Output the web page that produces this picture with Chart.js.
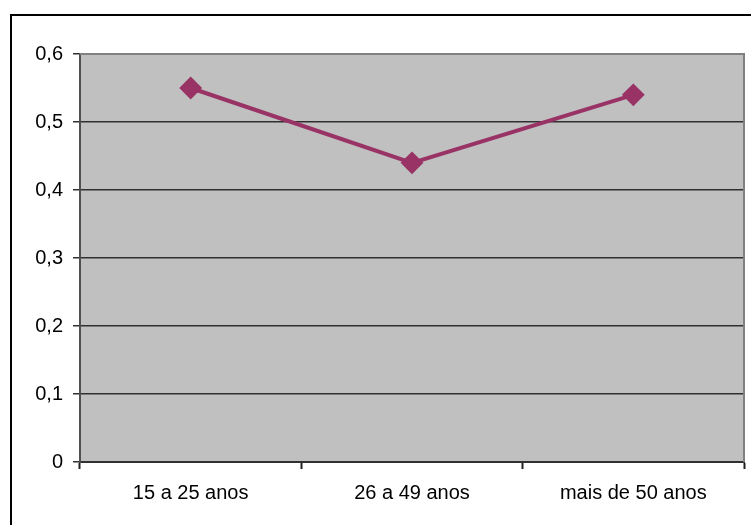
<!DOCTYPE html>
<html>
<head>
<meta charset="utf-8">
<script src="https://cdn.jsdelivr.net/npm/chart.js@4/dist/chart.umd.min.js"></script>
<style>
  html, body { margin: 0; padding: 0; background: #ffffff; }
  #wrap { position: relative; width: 751px; height: 525px; }
  canvas { display: block; }
</style>
</head>
<body>
<div id="wrap"><canvas id="c" width="751" height="525"></canvas></div>
<script>
// Age groups and the share measured for each
const faixas = ['15 a 25 anos', '26 a 49 anos', 'mais de 50 anos'];
const valores = [0.55, 0.44, 0.54];

// Y axis range and step
const yMin = 0;
const yMax = 0.6;
const yStep = 0.1;

const FONT = { family: "'Liberation Sans', Arial, sans-serif", size: 20 };

// Grey plot background, frame around the chart, top/right plot edges
const decor = {
  id: 'decor',
  beforeDraw(chart) {
    const { ctx, chartArea: a } = chart;
    ctx.save();
    ctx.fillStyle = '#c0c0c0';
    ctx.fillRect(a.left, a.top, a.right - a.left, a.bottom - a.top);
    ctx.restore();
  },
  afterDraw(chart) {
    const { ctx, chartArea: a } = chart;
    ctx.save();
    // outer frame
    ctx.strokeStyle = '#000000';
    ctx.lineWidth = 2;
    ctx.beginPath();
    ctx.moveTo(11, 525);
    ctx.lineTo(11, 15);
    ctx.lineTo(751, 15);
    ctx.stroke();
    // top and right edges of the plot area
    ctx.strokeStyle = '#808080';
    ctx.lineWidth = 2;
    ctx.beginPath();
    ctx.moveTo(a.left, a.top);
    ctx.lineTo(a.right, a.top);
    ctx.lineTo(a.right, a.bottom);
    ctx.stroke();
    ctx.restore();
  }
};

new Chart(document.getElementById('c'), {
  type: 'line',
  data: {
    labels: faixas,
    datasets: [{
      data: valores,
      borderColor: '#993366',
      backgroundColor: '#993366',
      borderWidth: 4,
      pointStyle: 'rectRot',
      pointRadius: 10,
      pointBorderWidth: 2,
      pointBackgroundColor: '#993366',
      pointBorderColor: '#993366',
      tension: 0,
      fill: false
    }]
  },
  options: {
    responsive: false,
    animation: false,
    events: [],
    layout: { autoPadding: false, padding: { left: 0, top: 54, right: 7, bottom: 0 } },
    plugins: { legend: { display: false }, tooltip: { enabled: false } },
    scales: {
      x: {
        offset: true,
        afterFit(scale) { scale.height = 63; },
        grid: {
          offset: true,
          drawOnChartArea: false,
          drawTicks: true,
          tickLength: 7,
          tickColor: '#202020',
          tickWidth: 2
        },
        border: { display: true, color: '#303030', width: 2 },
        ticks: { color: '#000000', font: FONT, padding: 12, maxRotation: 0 }
      },
      y: {
        min: yMin,
        max: yMax,
        afterFit(scale) { scale.width = 80; },
        grid: {
          color: '#303030',
          lineWidth: 1.5,
          drawTicks: true,
          tickLength: 7,
          tickColor: '#303030',
          tickWidth: 1.5
        },
        border: { display: true, color: '#505050', width: 2 },
        ticks: {
          stepSize: yStep,
          color: '#000000',
          font: FONT,
          padding: 10,
          callback: v => (Math.abs(v) < 1e-9 ? '0' : v.toFixed(1).replace('.', ','))
        }
      }
    }
  },
  plugins: [decor]
});
</script>
</body>
</html>
